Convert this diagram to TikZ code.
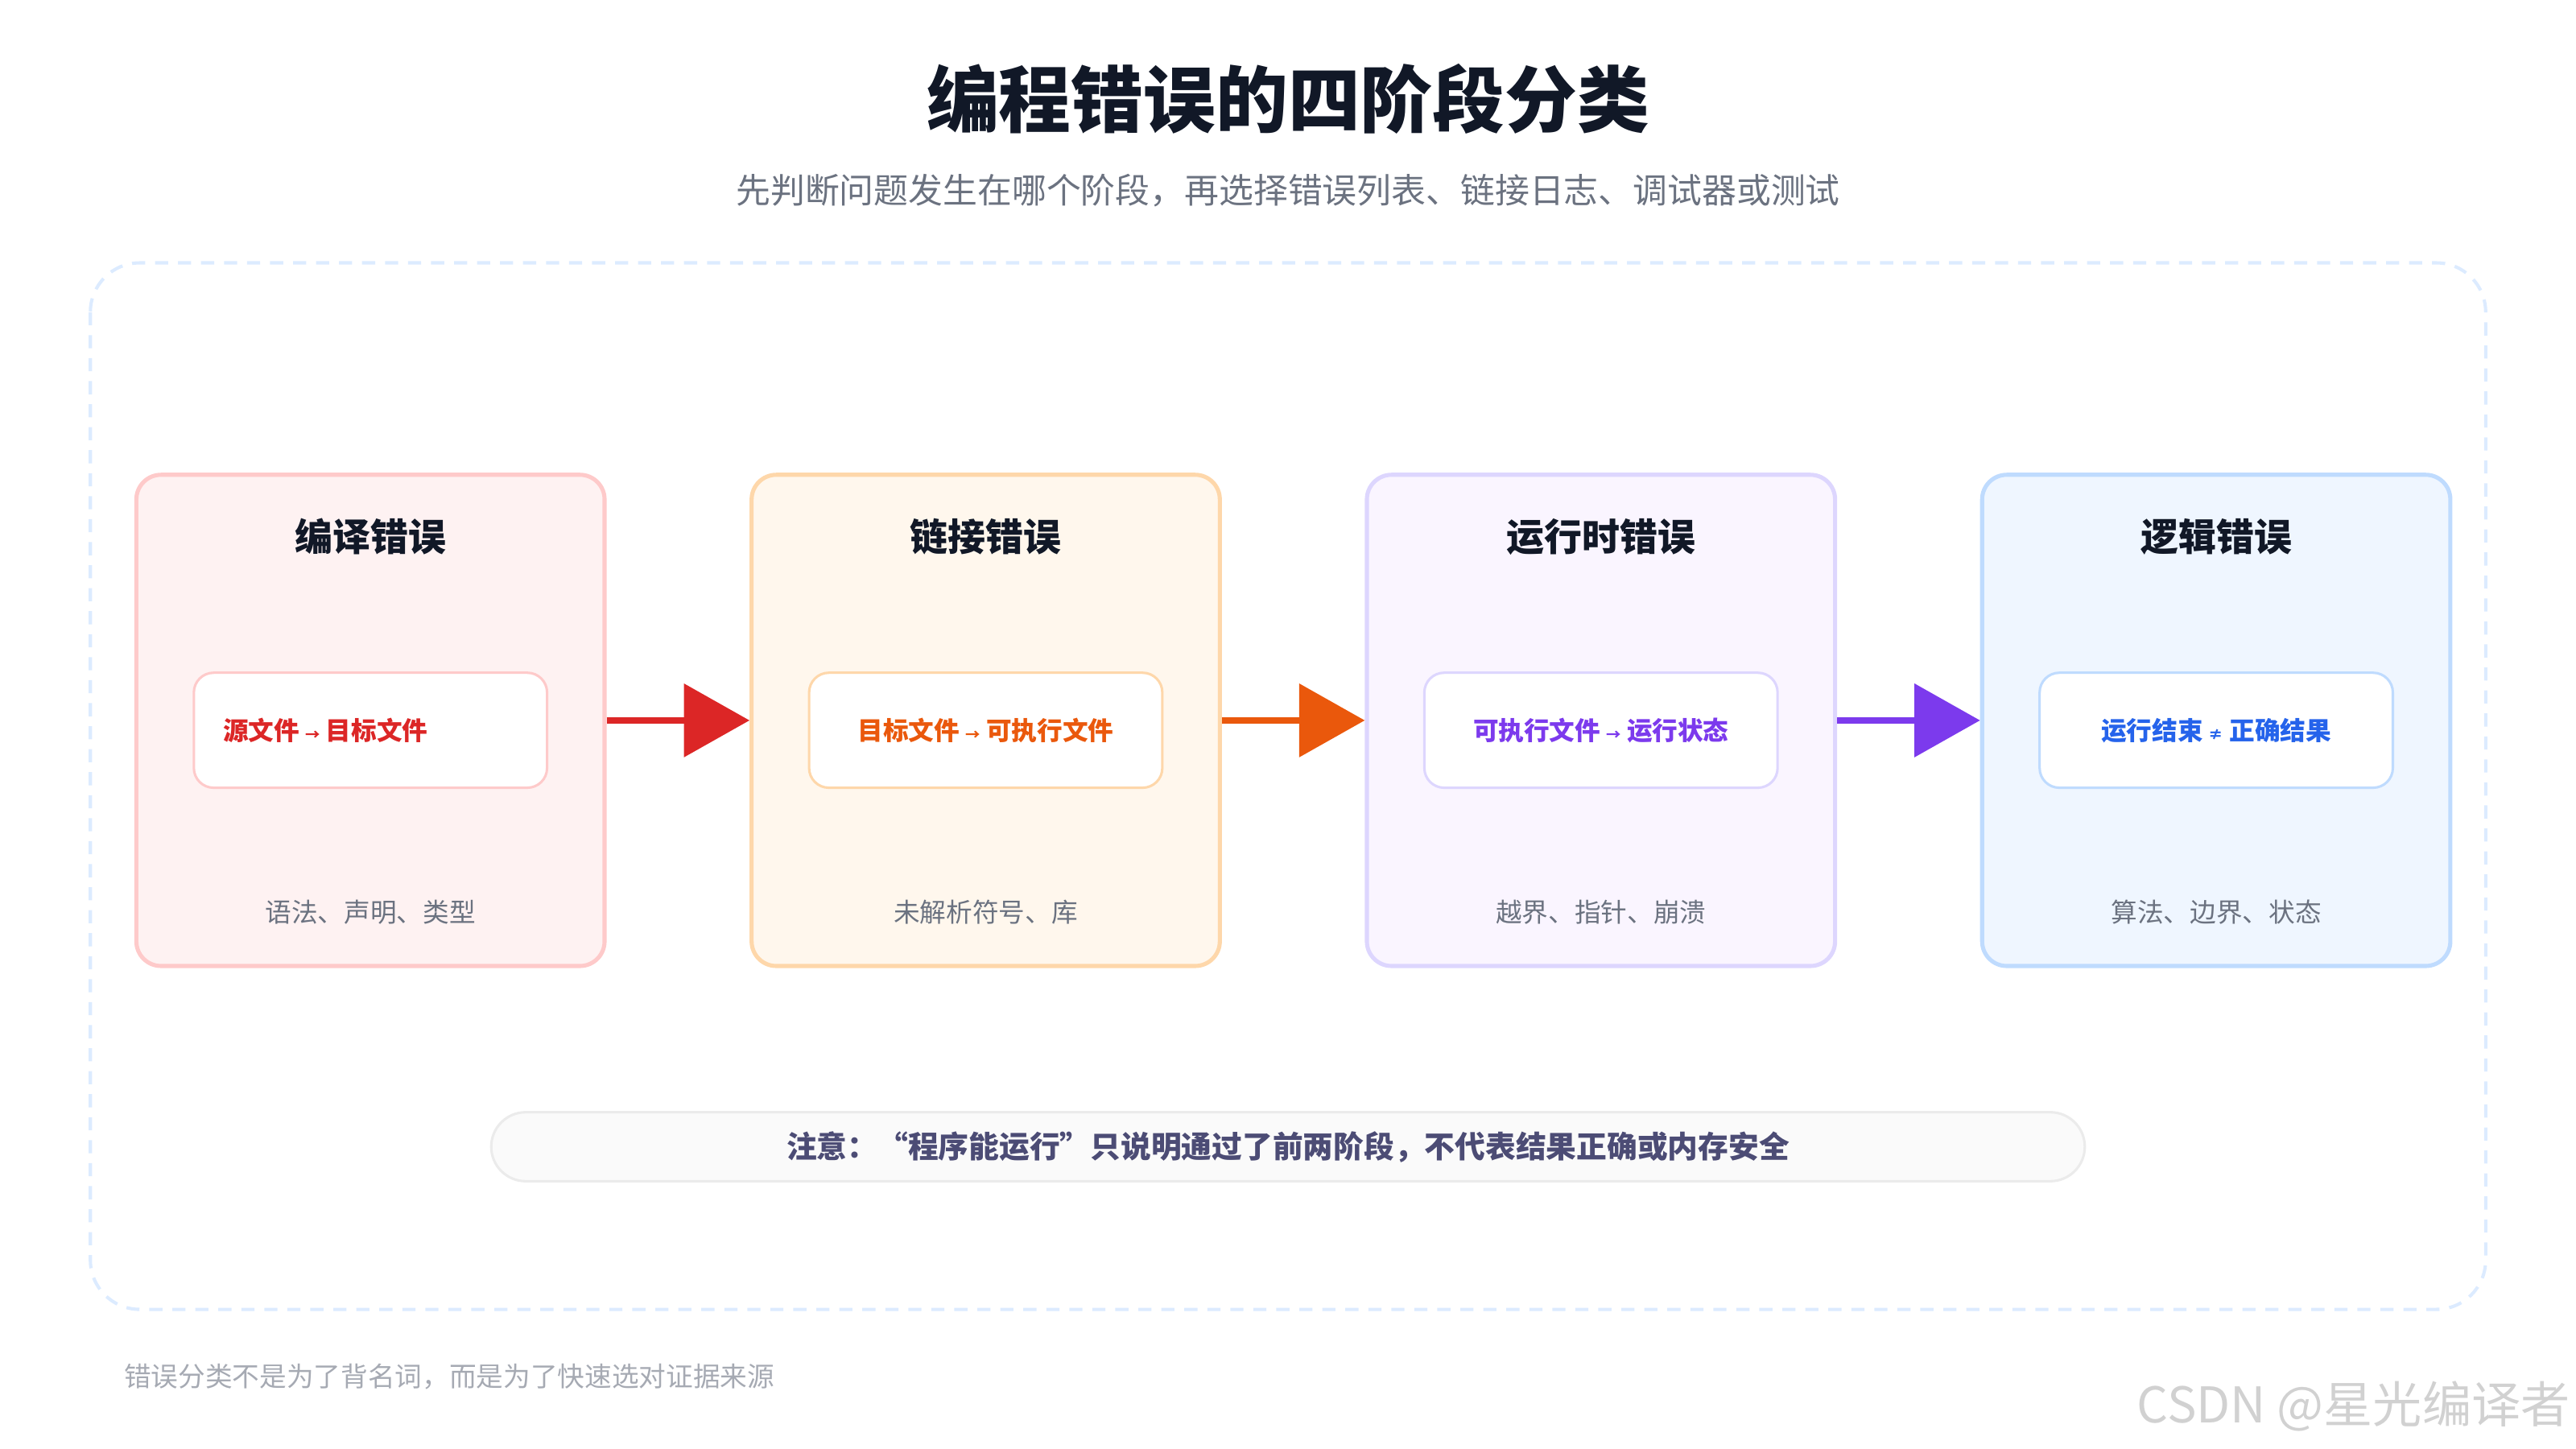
\documentclass[tikz,border=0pt]{standalone}
\usepackage{fontspec}
\setmainfont{Noto Sans CJK SC}
\usetikzlibrary{arrows.meta,
                positioning
                }
\definecolor{ink}{HTML}{111827}
\definecolor{mute}{HTML}{6B7280}
\definecolor{redT}{HTML}{DC2626}\definecolor{redF}{HTML}{FEF2F2}\definecolor{redD}{HTML}{FECACA}
\definecolor{orgT}{HTML}{EA580C}\definecolor{orgF}{HTML}{FFF7ED}\definecolor{orgD}{HTML}{FED7AA}
\definecolor{purT}{HTML}{7C3AED}\definecolor{purF}{HTML}{FAF5FF}\definecolor{purD}{HTML}{DDD6FE}
\definecolor{bluT}{HTML}{2563EB}\definecolor{bluF}{HTML}{EFF6FF}\definecolor{bluD}{HTML}{BFDBFE}

\begin{document}
\begin{tikzpicture}[x=1pt, y=1pt, node distance = 87pt,
     stage/.style = {draw=#1D, fill=#1F, line width=2.5pt, rounded corners=15pt,
                     minimum width=285pt, minimum height=299pt},
      flow/.style = {draw=#1D, fill=white, line width=1.5pt, rounded corners=12pt,
                     minimum width=215pt, minimum height=70pt},
      head/.style = {font=\fontsize{23}{27}\bfseries\selectfont, text=ink},
      pair/.style = {font=\fontsize{15.5}{18}\bfseries\selectfont, text=#1T},
      hint/.style = {font=\fontsize{16}{19}\selectfont, text=mute},
      step/.style = {line width=4pt, draw=#1T, -{Triangle[length=40pt,width=44pt]}}
      ]
    \useasboundingbox (0,0) rectangle (1568,-882);
    \node (title) [font=\fontsize{44}{50}\bfseries\selectfont, text=ink] at (784,-60) {编程错误的四阶段分类};
    \node (sub) [font=\fontsize{21}{25}\selectfont, text=mute] at (784,-116)
        {先判断问题发生在哪个阶段，再选择错误列表、链接日志、调试器或测试};
    \draw [draw=bluF!60!bluD, line width=2pt, dash pattern=on 8pt off 6pt, rounded corners=30pt]
        (55,-160) rectangle (1513,-797);

    \node (s1) [stage=red] at (225.5,-438.5) {};
    \node (s2) [stage=org, right=of s1] {};
    \node (s3) [stage=pur, right=of s2] {};
    \node (s4) [stage=blu, right=of s3] {};

    \node [head] at ([yshift=-39pt]s1.north) {编译错误};
    \node [head] at ([yshift=-39pt]s2.north) {链接错误};
    \node [head] at ([yshift=-39pt]s3.north) {运行时错误};
    \node [head] at ([yshift=-39pt]s4.north) {逻辑错误};

    \node (f1) [flow=red] at ([yshift=-6pt]s1.center) {};
    \node (f2) [flow=org] at ([yshift=-6pt]s2.center) {};
    \node (f3) [flow=pur] at ([yshift=-6pt]s3.center) {};
    \node (f4) [flow=blu] at ([yshift=-6pt]s4.center) {};
    \node [pair=red, anchor=west] at ([xshift=15pt]f1.west) {源文件 {\fontsize{9}{9}\selectfont →} 目标文件};
    \node [pair=org] at (f2) {目标文件 {\fontsize{9}{9}\selectfont →} 可执行文件};
    \node [pair=pur] at (f3) {可执行文件 {\fontsize{9}{9}\selectfont →} 运行状态};
    \node [pair=blu] at (f4) {运行结束 {\fontsize{9}{9}\selectfont ≠} 正确结果};

    \node [hint] at ([yshift=34pt]s1.south) {语法、声明、类型};
    \node [hint] at ([yshift=34pt]s2.south) {未解析符号、库};
    \node [hint] at ([yshift=34pt]s3.south) {越界、指针、崩溃};
    \node [hint] at ([yshift=34pt]s4.south) {算法、边界、状态};

    \draw [step=red] (s1.east) -- (s2.west);
    \draw [step=org] (s2.east) -- (s3.west);
    \draw [step=pur] (s3.east) -- (s4.west);

    \node (note) [draw=black!8, fill=black!2, line width=1.5pt, rounded corners=21pt,
                  minimum width=970pt, minimum height=42pt,
                  font=\fontsize{18.5}{22}\bfseries\selectfont, text=black!60!blue!40!gray]
        at (784,-698) {注意：“程序能运行”只说明通过了前两阶段，不代表结果正确或内存安全};
    \node (foot) [anchor=west, font=\fontsize{16.5}{20}\selectfont, text=mute!60] at (72,-838)
        {错误分类不是为了背名词，而是为了快速选对证据来源};
    \node (mark) [anchor=east, font=\fontsize{30}{34}\selectfont, text=black!18] at (1568,-856)
        {CSDN @星光编译者};
\end{tikzpicture}
\end{document}
